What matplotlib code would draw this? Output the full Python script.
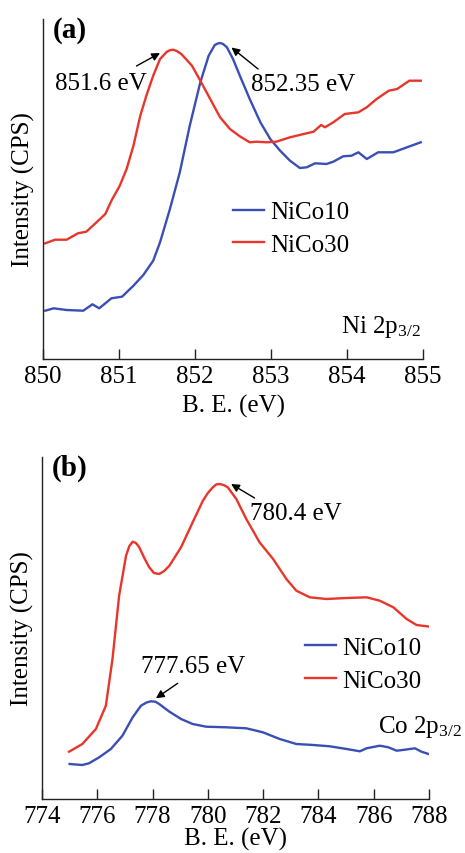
import matplotlib
matplotlib.use("Agg")
import matplotlib.pyplot as plt

plt.rcParams['font.family'] = ['Liberation Serif', 'DejaVu Serif']
plt.rcParams['mathtext.fontset'] = 'custom'
plt.rcParams['mathtext.rm'] = 'Liberation Serif'
plt.rcParams['mathtext.it'] = 'Liberation Serif:italic'
plt.rcParams['mathtext.bf'] = 'Liberation Serif:bold'

BLUE = '#3a4fb5'
RED = '#e8362a'

# ---------------- Panel (a): Ni 2p3/2 ----------------
a_nico10_x = [850.03, 850.14, 850.31, 850.53, 850.65, 850.74, 850.90, 851.04, 851.19, 851.32,
              851.45, 851.54, 851.67, 851.80, 851.93, 852.07, 852.18, 852.26, 852.30, 852.33,
              852.37, 852.42, 852.50, 852.59, 852.72, 852.86, 852.99, 853.12, 853.25, 853.38,
              853.47, 853.58, 853.73, 853.82, 853.95, 854.06, 854.15, 854.26, 854.41, 854.61,
              854.79, 854.97]
a_nico10_y = [48.3, 50.7, 49.0, 48.3, 54.7, 50.7, 60.7, 62.3, 73.3, 84.0,
              98.3, 116.7, 150.0, 186.7, 233.0, 276.7, 303.3, 314.0, 315.5, 316.0,
              315.0, 311.7, 300.0, 283.3, 260.0, 236.7, 220.0, 208.3, 198.3, 191.0,
              191.7, 195.7, 195.0, 197.3, 202.7, 203.3, 206.7, 200.0, 206.7, 206.7,
              211.7, 216.7]

a_nico30_x = [850.03, 850.16, 850.31, 850.46, 850.57, 850.68, 850.82, 850.90, 851.01, 851.10,
              851.19, 851.28, 851.36, 851.45, 851.54, 851.63, 851.67, 851.71, 851.76, 851.82,
              851.96, 852.07, 852.20, 852.33, 852.46, 852.59, 852.72, 852.81, 852.94, 853.07,
              853.25, 853.43, 853.56, 853.66, 853.71, 853.82, 853.97, 854.15, 854.26, 854.39,
              854.55, 854.66, 854.82, 854.97]
a_nico30_y = [115.7, 119.3, 119.3, 125.7, 127.3, 135.0, 145.0, 158.3, 173.3, 190.0,
              213.3, 243.3, 263.3, 283.3, 300.0, 307.3, 308.7, 309.3, 308.0, 305.0,
              293.3, 278.3, 260.0, 241.7, 230.0, 222.7, 216.7, 217.3, 216.7, 217.3,
              221.7, 225.0, 227.3, 234.0, 231.7, 236.7, 245.0, 246.7, 251.7, 260.0,
              268.3, 270.0, 278.3, 278.3]

a_ticks = [850, 851, 852, 853, 854, 855]

# ---------------- Panel (b): Co 2p3/2 ----------------
b_nico30_x = [774.98, 775.46, 775.95, 776.31, 776.55, 776.79, 777.04, 777.16, 777.28, 777.40,
              777.52, 777.70, 777.88, 778.05, 778.24, 778.42, 778.61, 779.03, 779.45, 779.82,
              780.00, 780.18, 780.30, 780.42, 780.57, 780.72, 781.03, 781.39, 781.87, 782.36,
              782.84, 783.20, 783.69, 784.29, 785.02, 785.74, 786.22, 786.71, 787.19, 787.55,
              788.04]
b_nico30_y = [47.3, 55.0, 70.0, 93.3, 140.0, 203.3, 243.3, 253.0, 257.3, 256.0,
              251.7, 241.0, 231.7, 226.0, 225.0, 228.0, 233.3, 251.7, 276.7, 298.3,
              306.0, 311.7, 314.5, 315.0, 314.0, 311.7, 300.0, 280.0, 256.7, 240.0,
              220.0, 208.3, 201.7, 200.0, 201.0, 201.7, 198.3, 191.7, 180.0, 174.0,
              172.3]

b_nico10_x = [775.00, 775.46, 775.70, 776.07, 776.49, 776.91, 777.28, 777.58, 777.78, 777.94,
              778.10, 778.24, 778.61, 779.03, 779.45, 779.94, 780.66, 781.39, 781.99, 782.60,
              783.20, 783.81, 784.41, 785.02, 785.50, 785.74, 786.22, 786.53, 786.83, 787.13,
              787.49, 787.73, 788.06]
b_nico10_y = [35.0, 34.0, 35.7, 41.7, 50.0, 63.3, 81.7, 93.3, 96.5, 97.7,
              97.3, 95.0, 87.3, 80.0, 75.0, 72.3, 71.7, 70.7, 66.7, 60.0,
              55.0, 54.0, 52.7, 50.0, 47.7, 50.7, 53.3, 51.7, 48.3, 49.3,
              50.7, 47.3, 44.3]

b_ticks = [774, 776, 778, 780, 782, 784, 786, 788]

labels = ['NiCo10', 'NiCo30']

W, H = 465, 854
fig = plt.figure(figsize=(W / 100, H / 100), dpi=100)

FS = 18
LW = 1.7
ARROW = dict(arrowstyle='-|>', color='black', lw=1.0, mutation_scale=12,
             shrinkA=0, shrinkB=0)


def px_axes(l, r, t, b):
    return fig.add_axes([l / W, 1 - b / H, (r - l) / W, (b - t) / H])


def style(ax, xlim, ylim, ticks, xlabelpad):
    ax.set_xlim(*xlim)
    ax.set_ylim(*ylim)
    ax.spines['top'].set_visible(False)
    ax.spines['right'].set_visible(False)
    for s in ('left', 'bottom'):
        ax.spines[s].set_linewidth(1.0)
        ax.spines[s].set_color('#222222')
    ax.set_yticks([])
    ax.set_xticks(ticks)
    ax.tick_params(axis='x', direction='in', length=7, width=1.0, labelsize=FS,
                   pad=4, color='#222222')
    ax.set_xlabel('B. E. (eV)', fontsize=FS, labelpad=xlabelpad)
    ax.set_ylabel('Intensity (CPS)', fontsize=FS, labelpad=6)


def arrow(ax, head, tail):
    ax.annotate('', xy=head, xytext=tail, arrowprops=ARROW)


# Panel (a)
ax1 = px_axes(43, 423, 20, 360)
ax1.plot(a_nico10_x, a_nico10_y, color=BLUE, lw=LW, label=labels[0])
ax1.plot(a_nico30_x, a_nico30_y, color=RED, lw=LW, label=labels[1])
style(ax1, (850, 855), (0, 340), a_ticks, 5)
ax1.text(0.025, 1.01, '(a)', transform=ax1.transAxes, fontsize=21, fontweight='bold',
         va='top', ha='left')
arrow(ax1, (851.54, 306), (851.23, 293))
ax1.text(851.37, 276, '851.6 eV', fontsize=FS, ha='right', va='center')
arrow(ax1, (852.48, 311.5), (852.83, 290))
ax1.text(852.74, 275, '852.35 eV', fontsize=FS, ha='left', va='center')
ax1.text(854.97, 27, r'Ni 2p$_\mathrm{3/2}$', fontsize=FS, ha='right', va='baseline')
ax1.legend(loc='upper left', bbox_to_anchor=(0.5, 0.465), frameon=False, fontsize=FS,
           handlelength=1.25, handletextpad=0.25, labelspacing=0.4, borderpad=0,
           borderaxespad=0)

# Panel (b)
ax2 = px_axes(42, 429, 458, 800)
ax2.plot(b_nico10_x, b_nico10_y, color=BLUE, lw=LW, label=labels[0])
ax2.plot(b_nico30_x, b_nico30_y, color=RED, lw=LW, label=labels[1])
style(ax2, (774, 788), (0, 342), b_ticks, 0)
ax2.text(0.025, 1.01, '(b)', transform=ax2.transAxes, fontsize=21, fontweight='bold',
         va='top', ha='left')
arrow(ax2, (780.84, 315), (781.69, 301))
ax2.text(781.53, 286, '780.4 eV', fontsize=FS, ha='left', va='center')
arrow(ax2, (778.12, 100.7), (778.91, 115.7))
ax2.text(779.45, 133, '777.65 eV', fontsize=FS, ha='center', va='center')
ax2.text(789.2, 67, r'Co 2p$_\mathrm{3/2}$', fontsize=FS, ha='right', va='baseline')
ax2.legend(loc='upper left', bbox_to_anchor=(0.68, 0.475), frameon=False, fontsize=FS,
           handlelength=1.25, handletextpad=0.25, labelspacing=0.4, borderpad=0,
           borderaxespad=0)

fig.savefig('out.png', dpi=100)
